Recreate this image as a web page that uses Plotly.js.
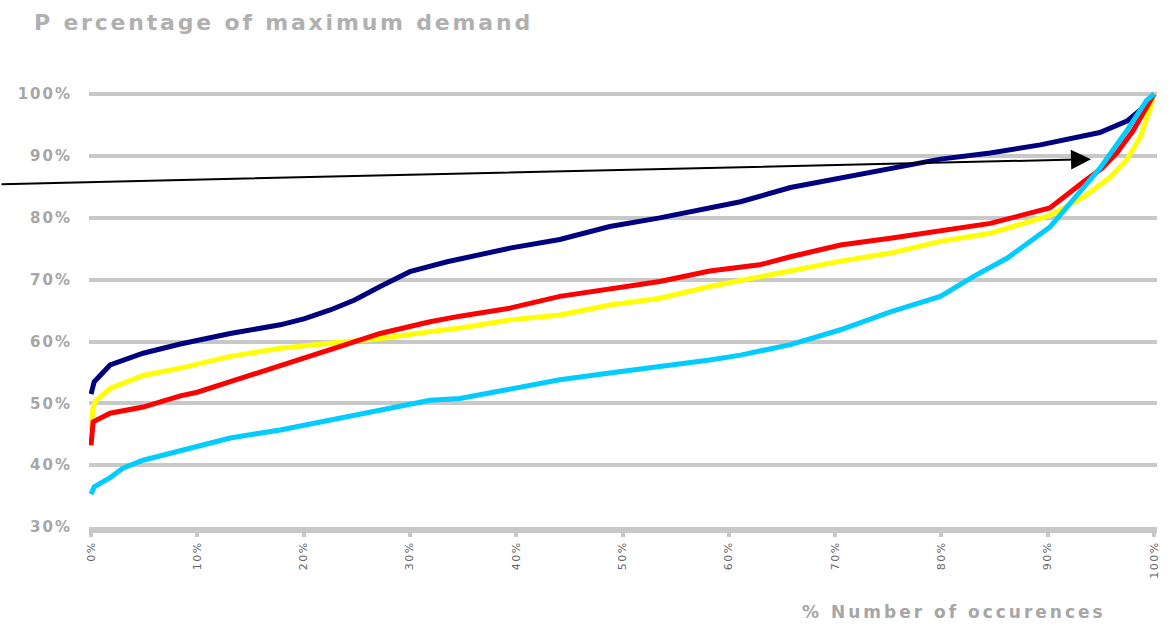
<!DOCTYPE html>
<html>
<head>
<meta charset="utf-8">
<script src="https://cdn.plot.ly/plotly-3.0.1.min.js"></script>
<style>
  html, body { margin: 0; padding: 0; background: #fff; }
  #chart { width: 1169px; height: 627px; }
  .gtitle { letter-spacing: 2.8px; }
  .ytick text { letter-spacing: 2px; }
  .xtick text { letter-spacing: 1.5px; }
  .annotation-text { letter-spacing: 3px; }
</style>
</head>
<body>
<div id="chart"></div>
<script>
// Percent of occurrences (x) and percentage of maximum demand (y) for each curve
const navyX = [0, 0.3, 1.8, 4.9, 8.4, 10, 13.1, 17.8, 20.1, 22.5, 24.8, 27.2, 30, 33.5, 36.6, 39.4, 44.1, 48.8, 53.5, 58.2, 61.1, 65.8, 70.5, 75.2, 79.9, 84.6, 89.3, 94.9, 97.5, 98.7, 99.3, 100];
const navyY = [51.5, 53.5, 56.2, 58.1, 59.6, 60.2, 61.3, 62.7, 63.7, 65.1, 66.7, 68.9, 71.3, 72.9, 74, 75.1, 76.5, 78.6, 80, 81.6, 82.6, 84.9, 86.5, 88.1, 89.5, 90.5, 91.8, 93.8, 95.7, 97.4, 98.7, 100];

const yellowX = [0, 0.2, 0.5, 1.8, 4.9, 8.4, 13.1, 17.8, 22.5, 27.2, 31.9, 34.7, 39.4, 44.1, 48.8, 53.5, 58.2, 62.9, 65.8, 70.5, 75.2, 79.9, 84.6, 89.3, 90.2, 93.4, 95.9, 97.4, 98.7, 99.6, 100];
const yellowY = [45.5, 49.5, 50.5, 52.4, 54.5, 55.7, 57.6, 58.9, 59.7, 60.5, 61.6, 62.2, 63.5, 64.3, 65.9, 67, 68.9, 70.5, 71.6, 73, 74.3, 76.2, 77.5, 80, 80.4, 83.4, 86.6, 89.3, 93, 97.5, 100];

const redX = [0, 0.2, 1.8, 4.9, 8.4, 10, 13.1, 17.8, 22.5, 27.2, 31.9, 34.7, 39.4, 44.1, 48.8, 53.5, 58.2, 62.9, 65.8, 70.5, 75.2, 79.9, 84.6, 89.3, 90.2, 93.5, 95.1, 96.5, 98, 99, 100];
const redY = [43.2, 47, 48.4, 49.4, 51.2, 51.8, 53.5, 56, 58.7, 61.3, 63.2, 64.1, 65.4, 67.3, 68.6, 69.7, 71.4, 72.4, 73.7, 75.6, 76.7, 78, 79.1, 81.2, 81.6, 86, 88, 90.5, 94, 97, 100];

const cyanX = [0, 0.3, 1.8, 3, 4.9, 8.4, 10, 13.1, 17.8, 22.5, 27.2, 31.9, 34.7, 39.4, 44.1, 48.8, 53.5, 58.2, 61.1, 65.8, 70.5, 75.2, 79.9, 83, 86.2, 89.3, 90.2, 94.9, 97.4, 99.3, 100];
const cyanY = [35.3, 36.5, 38, 39.5, 40.8, 42.4, 43, 44.4, 45.7, 47.3, 48.9, 50.5, 50.8, 52.2, 53.8, 54.9, 55.9, 57, 57.8, 59.5, 61.9, 64.8, 67.3, 70.5, 73.5, 77.5, 78.5, 88, 94, 99, 100];

const xTickVals = [0, 10, 20, 30, 40, 50, 60, 70, 80, 90, 100];
const xTickText = ["0%", "10%", "20%", "30%", "40%", "50%", "60%", "70%", "80%", "90%", "100%"];
const yTickVals = [30, 40, 50, 60, 70, 80, 90, 100];
const yTickText = ["30%", "40%", "50%", "60%", "70%", "80%", "90%", "100%"];

const titleText = "P ercentage of maximum demand";
const xTitleText = "% Number of occurences";

function line(x, y, color) {
  return { x: x, y: y, type: "scatter", mode: "lines", line: { color: color, width: 5 }, hoverinfo: "skip", showlegend: false };
}

const data = [
  line(navyX, navyY, "#000080"),
  line(yellowX, yellowY, "#ffff00"),
  line(redX, redY, "#ff0000"),
  line(cyanX, cyanY, "#00ccff")
];

const grey = "#a6a6a6";
const layout = {
  width: 1169, height: 627,
  paper_bgcolor: "#ffffff", plot_bgcolor: "#ffffff",
  margin: { l: 89, r: 12, t: 88, b: 100, pad: 0 },
  showlegend: false,
  title: {
    text: titleText, xref: "container", yref: "container",
    x: 34 / 1169, xanchor: "left", y: 1 - 22 / 627, yanchor: "middle",
    font: { family: "DejaVu Sans", size: 22, weight: "bold", color: "#b0b0b0" }
  },
  xaxis: {
    range: [-0.19, 100.28], fixedrange: true,
    showgrid: false, zeroline: false,
    showline: true, linecolor: "#c8c8c8", linewidth: 6,
    ticks: "outside", ticklen: 4, tickwidth: 4, tickcolor: "#c8c8c8",
    tickvals: xTickVals, ticktext: xTickText, tickangle: -90,
    tickfont: { family: "DejaVu Sans", size: 11, color: "#666666" }
  },
  yaxis: {
    range: [30, 101], fixedrange: true,
    showgrid: true, gridcolor: "#c8c8c8", gridwidth: 4,
    zeroline: false, showline: false, ticks: "",
    tickvals: yTickVals, ticktext: yTickText,
    ticklabelstandoff: 16,
    tickfont: { family: "DejaVu Sans", size: 15, weight: "bold", color: grey }
  },
  annotations: [
    {
      text: xTitleText, xref: "paper", yref: "paper",
      x: (1108 - 89) / 1068, xanchor: "right",
      y: (527 - 612) / 439.2, yanchor: "middle",
      showarrow: false,
      font: { family: "DejaVu Sans", size: 17, weight: "bold", color: grey }
    },
    {
      text: "", xref: "paper", yref: "paper",
      x: (1091 - 89) / 1068, y: (527 - 159) / 439.2,
      showarrow: true, arrowhead: 2, arrowsize: 2, arrowwidth: 2, arrowcolor: "#000000",
      ax: -1091, ay: 25, axref: "pixel", ayref: "pixel"
    }
  ]
};

Plotly.newPlot("chart", data, layout, { staticPlot: true, displayModeBar: false });
</script>
</body>
</html>
